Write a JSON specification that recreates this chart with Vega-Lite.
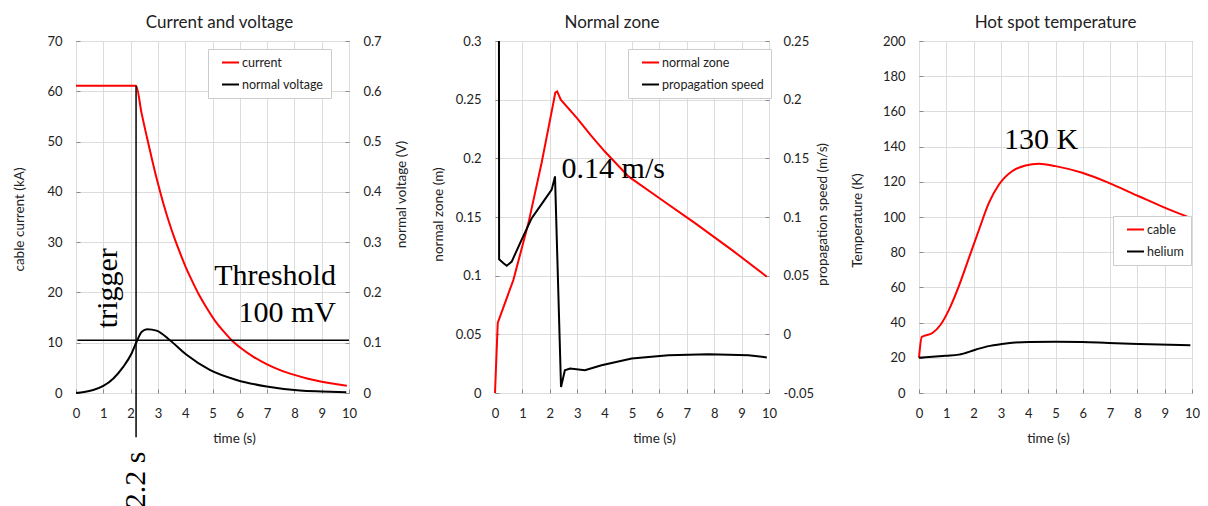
{
  "$schema": "https://vega.github.io/schema/vega-lite/v6.json",
  "padding": {"left": 11, "top": 13, "right": 5, "bottom": 0},
  "config": {
    "font": "Lato",
    "view": {"stroke": "#8a8a8a", "strokeWidth": 1},
    "axis": {"labelFont": "Lato", "labelFontSize": 13, "labelColor": "#222222", "titleFont": "Lato", "titleFontSize": 13.5, "titleFontWeight": "normal", "titleColor": "#222222", "domain": false, "gridColor": "#dcdcdc", "gridWidth": 1, "tickColor": "#8a8a8a", "tickSize": -4, "tickWidth": 1, "labelPadding": 18, "labelOverlap": false, "labelFlush": false, "labelExpr": "'' + datum.value"},
    "legend": {"orient": "none", "padding": 7, "fillColor": "white", "strokeColor": "#cccccc", "symbolType": "stroke", "symbolSize": 289, "symbolStrokeWidth": 2, "labelFont": "Lato", "labelFontSize": 12.5, "labelColor": "#222222", "labelOffset": 2, "rowPadding": 9, "clipHeight": 13, "symbolOffset": 6},
    "title": {"font": "Lato", "fontSize": 17, "fontWeight": "normal", "color": "#222222", "anchor": "middle", "frame": "group", "baseline": "alphabetic", "offset": 3}
  },
  "datasets": {
    "current": [{"t":0,"kA":61.1},{"t":2.2,"kA":61.1},{"t":2.4,"kA":55.7},{"t":2.6,"kA":50.8},{"t":2.8,"kA":46.1},{"t":3.0,"kA":41.7},{"t":3.2,"kA":37.7},{"t":3.4,"kA":34.1},{"t":3.6,"kA":30.9},{"t":3.8,"kA":28.0},{"t":4.0,"kA":25.3},{"t":4.2,"kA":22.9},{"t":4.5,"kA":19.6},{"t":4.8,"kA":16.8},{"t":5.1,"kA":14.3},{"t":5.4,"kA":12.3},{"t":5.7,"kA":10.5},{"t":6.0,"kA":9.1},{"t":6.5,"kA":7.2},{"t":7.0,"kA":5.7},{"t":7.5,"kA":4.5},{"t":8.0,"kA":3.6},{"t":8.5,"kA":2.85},{"t":9.0,"kA":2.25},{"t":9.5,"kA":1.8},{"t":9.92,"kA":1.45}],
    "voltage": [{"t":0,"V":0},{"t":0.3,"V":0.002},{"t":0.63,"V":0.006},{"t":1.0,"V":0.014},{"t":1.37,"V":0.029},{"t":1.73,"V":0.052},{"t":2.04,"V":0.079},{"t":2.22,"V":0.102},{"t":2.41,"V":0.122},{"t":2.61,"V":0.127},{"t":2.95,"V":0.124},{"t":3.44,"V":0.105},{"t":4.05,"V":0.076},{"t":4.9,"V":0.046},{"t":5.88,"V":0.026},{"t":6.98,"V":0.013},{"t":8.2,"V":0.005},{"t":9.0,"V":0.003},{"t":9.9,"V":0.0014}],
    "triggerLine": [{"t":2.2,"top":61.1,"bottom":-8.8}],
    "thresholdLine": [{"t0":0.05,"t1":10,"v":10.5}],
    "p1rotText": [{"t":1.5,"v":28.8,"label":"trigger"},{"t":2.53,"v":-11.67,"label":"2.2 s"}],
    "p1text": [{"t":9.52,"v":21.5,"label":"Threshold"},{"t":9.52,"v":14.2,"label":"100 mV"}],
    "zone": [{"t":0,"m":0},{"t":0.1,"m":0.0598},{"t":0.67,"m":0.0963},{"t":1.22,"m":0.1448},{"t":1.7,"m":0.196},{"t":2.13,"m":0.2473},{"t":2.2,"m":0.256},{"t":2.27,"m":0.257},{"t":2.4,"m":0.25},{"t":3.0,"m":0.234},{"t":3.5,"m":0.2195},{"t":4.0,"m":0.206},{"t":4.87,"m":0.1846},{"t":6.08,"m":0.1647},{"t":7.3,"m":0.1448},{"t":8.64,"m":0.122},{"t":9.92,"m":0.0991}],
    "speed": [{"t":0.14,"ms":0.4},{"t":0.15,"ms":0.064},{"t":0.31,"ms":0.0606},{"t":0.43,"ms":0.0585},{"t":0.61,"ms":0.062},{"t":0.97,"ms":0.0805},{"t":1.34,"ms":0.099},{"t":1.77,"ms":0.1133},{"t":2.07,"ms":0.1233},{"t":2.19,"ms":0.1346},{"t":2.41,"ms":-0.0449},{"t":2.55,"ms":-0.0306},{"t":2.74,"ms":-0.0292},{"t":3.28,"ms":-0.0306},{"t":3.89,"ms":-0.0263},{"t":4.99,"ms":-0.0206},{"t":6.33,"ms":-0.0178},{"t":7.79,"ms":-0.0169},{"t":9.25,"ms":-0.0178},{"t":9.92,"ms":-0.0197}],
    "p2text": [{"t":2.43,"v":0.1835,"label":"0.14 m/s"}],
    "cable": [{"t":0,"K":20},{"t":0.1,"K":31.8},{"t":0.49,"K":34.1},{"t":0.79,"K":38.8},{"t":1.1,"K":47.4},{"t":1.46,"K":60.7},{"t":1.83,"K":76.8},{"t":2.2,"K":92.9},{"t":2.56,"K":108},{"t":2.93,"K":118.5},{"t":3.41,"K":126},{"t":3.9,"K":129.3},{"t":4.39,"K":130.3},{"t":5.0,"K":128.9},{"t":5.98,"K":125.1},{"t":6.95,"K":119.4},{"t":8.05,"K":111.8},{"t":9.02,"K":105.2},{"t":9.94,"K":99.5}],
    "helium": [{"t":0,"K":20},{"t":0.98,"K":21.2},{"t":1.46,"K":21.8},{"t":2.07,"K":24.6},{"t":2.5,"K":26.5},{"t":3.04,"K":27.9},{"t":4.02,"K":29},{"t":5.0,"K":29.1},{"t":5.97,"K":29},{"t":6.95,"K":28.4},{"t":8.05,"K":27.9},{"t":9.94,"K":27.1}],
    "p3text": [{"t":3.11,"v":138.8,"label":"130 K"}]
  },
  "spacing": 21,
  "resolve": {"scale": {"color": "independent", "x": "independent", "y": "independent"}, "legend": {"color": "independent"}},
  "hconcat": [
    {
      "width": 273, "height": 352,
      "title": {"text": "Current and voltage", "dx": 7},
      "resolve": {"scale": {"y": "independent"}},
      "layer": [
        {
          "data": {"name": "current"},
          "mark": {"type": "line", "strokeWidth": 2, "interpolate": "monotone"},
          "encoding": {
            "x": {"field": "t", "type": "quantitative", "scale": {"domain": [0, 10], "nice": false}, "axis": {"values": [0,1,2,3,4,5,6,7,8,9,10], "tickCount": 11, "labelOverlap": false, "title": "time (s)", "titleX": 158, "titleY": 49, "titleAlign": "center", "titleBaseline": "alphabetic"}},
            "y": {"field": "kA", "type": "quantitative", "scale": {"domain": [0, 70], "nice": false}, "axis": {"values": [0,10,20,30,40,50,60,70], "tickCount": 8, "labelOverlap": false, "title": "cable current (kA)", "titleAngle": 270, "titleX": -57, "titleY": 178, "titleAlign": "center", "titleBaseline": "middle"}},
            "color": {"datum": "current", "type": "nominal", "scale": {"domain": ["current", "normal voltage"], "range": ["#ff0000", "#000000"]}, "legend": {"title": null, "legendX": 132, "legendY": 8}}
          }
        },
        {
          "data": {"name": "voltage"},
          "mark": {"type": "line", "strokeWidth": 2, "interpolate": "monotone"},
          "encoding": {
            "x": {"field": "t", "type": "quantitative"},
            "y": {"field": "V", "type": "quantitative", "scale": {"domain": [0, 0.7], "nice": false}, "axis": {"orient": "right", "grid": false, "tickCount": 8, "labelOverlap": false, "values": [0,0.1,0.2,0.3,0.4,0.5,0.6,0.7], "title": "normal voltage (V)", "titleAngle": 270, "titleX": 52.5, "titleY": 153, "titleAlign": "center", "titleBaseline": "middle"}},
            "color": {"datum": "normal voltage", "type": "nominal"}
          }
        },
        {
          "data": {"name": "triggerLine"},
          "mark": {"type": "rule", "color": "#000000", "strokeWidth": 1.5},
          "encoding": {
            "x": {"field": "t", "type": "quantitative"},
            "y": {"field": "top", "type": "quantitative", "scale": {"domain": [0, 70], "nice": false}, "axis": null},
            "y2": {"field": "bottom"}
          }
        },
        {
          "data": {"name": "thresholdLine"},
          "mark": {"type": "rule", "color": "#000000", "strokeWidth": 1.5},
          "encoding": {
            "x": {"field": "t0", "type": "quantitative"},
            "x2": {"field": "t1"},
            "y": {"field": "v", "type": "quantitative", "scale": {"domain": [0, 70], "nice": false}, "axis": null}
          }
        },
        {
          "data": {"name": "p1rotText"},
          "mark": {"type": "text", "font": "Liberation Serif", "fontSize": 30, "angle": 270, "align": "right", "baseline": "alphabetic", "color": "#000000"},
          "encoding": {
            "x": {"field": "t", "type": "quantitative"},
            "y": {"field": "v", "type": "quantitative", "scale": {"domain": [0, 70], "nice": false}, "axis": null},
            "text": {"field": "label"}
          }
        },
        {
          "data": {"name": "p1text"},
          "mark": {"type": "text", "font": "Liberation Serif", "fontSize": 30, "align": "right", "baseline": "alphabetic", "color": "#000000"},
          "encoding": {
            "x": {"field": "t", "type": "quantitative"},
            "y": {"field": "v", "type": "quantitative", "scale": {"domain": [0, 70], "nice": false}, "axis": null},
            "text": {"field": "label"}
          }
        }
      ]
    },
    {
      "width": 274, "height": 352,
      "title": {"text": "Normal zone", "dx": -20},
      "resolve": {"scale": {"y": "independent"}},
      "layer": [
        {
          "data": {"name": "zone"},
          "mark": {"type": "line", "strokeWidth": 2},
          "encoding": {
            "x": {"field": "t", "type": "quantitative", "scale": {"domain": [0, 10], "nice": false}, "axis": {"values": [0,1,2,3,4,5,6,7,8,9,10], "tickCount": 11, "labelOverlap": false, "title": "time (s)", "titleX": 159, "titleY": 49, "titleAlign": "center", "titleBaseline": "alphabetic"}},
            "y": {"field": "m", "type": "quantitative", "scale": {"domain": [0, 0.3], "nice": false}, "axis": {"values": [0,0.05,0.1,0.15,0.2,0.25,0.3], "tickCount": 7, "labelOverlap": false, "title": "normal zone (m)", "titleAngle": 270, "titleX": -57, "titleY": 173, "titleAlign": "center", "titleBaseline": "middle"}},
            "color": {"datum": "normal zone", "type": "nominal", "scale": {"domain": ["normal zone", "propagation speed"], "range": ["#ff0000", "#000000"]}, "legend": {"title": null, "legendX": 133, "legendY": 8}}
          }
        },
        {
          "data": {"name": "speed"},
          "mark": {"type": "line", "strokeWidth": 2, "clip": true},
          "encoding": {
            "x": {"field": "t", "type": "quantitative"},
            "y": {"field": "ms", "type": "quantitative", "scale": {"domain": [-0.05, 0.25], "nice": false}, "axis": {"orient": "right", "grid": false, "tickCount": 7, "labelOverlap": false, "values": [-0.05,0,0.05,0.1,0.15,0.2,0.25], "title": "propagation speed (m/s)", "titleAngle": 270, "titleX": 53, "titleY": 173, "titleAlign": "center", "titleBaseline": "middle"}},
            "color": {"datum": "propagation speed", "type": "nominal"}
          }
        },
        {
          "data": {"name": "p2text"},
          "mark": {"type": "text", "font": "Liberation Serif", "fontSize": 30, "align": "left", "baseline": "alphabetic", "color": "#000000"},
          "encoding": {
            "x": {"field": "t", "type": "quantitative"},
            "y": {"field": "v", "type": "quantitative", "scale": {"domain": [0, 0.3], "nice": false}, "axis": null},
            "text": {"field": "label"}
          }
        }
      ]
    },
    {
      "width": 273, "height": 352,
      "title": {"text": "Hot spot temperature"},
      "layer": [
        {
          "data": {"name": "cable"},
          "mark": {"type": "line", "strokeWidth": 2, "interpolate": "monotone"},
          "encoding": {
            "x": {"field": "t", "type": "quantitative", "scale": {"domain": [0, 10], "nice": false}, "axis": {"values": [0,1,2,3,4,5,6,7,8,9,10], "tickCount": 11, "labelOverlap": false, "title": "time (s)", "titleX": 129, "titleY": 49, "titleAlign": "center", "titleBaseline": "alphabetic"}},
            "y": {"field": "K", "type": "quantitative", "scale": {"domain": [0, 200], "nice": false}, "axis": {"values": [0,20,40,60,80,100,120,140,160,180,200], "tickCount": 11, "labelOverlap": false, "title": "Temperature (K)", "titleAngle": 270, "titleX": -61.5, "titleY": 179, "titleAlign": "center", "titleBaseline": "middle"}},
            "color": {"datum": "cable", "type": "nominal", "scale": {"domain": ["cable", "helium"], "range": ["#ff0000", "#000000"]}, "legend": {"title": null, "legendX": 194, "legendY": 175}}
          }
        },
        {
          "data": {"name": "helium"},
          "mark": {"type": "line", "strokeWidth": 2, "interpolate": "monotone"},
          "encoding": {
            "x": {"field": "t", "type": "quantitative"},
            "y": {"field": "K", "type": "quantitative"},
            "color": {"datum": "helium", "type": "nominal"}
          }
        },
        {
          "data": {"name": "p3text"},
          "mark": {"type": "text", "font": "Liberation Serif", "fontSize": 30, "align": "left", "baseline": "alphabetic", "color": "#000000"},
          "encoding": {
            "x": {"field": "t", "type": "quantitative"},
            "y": {"field": "v", "type": "quantitative"},
            "text": {"field": "label"}
          }
        }
      ]
    }
  ]
}
